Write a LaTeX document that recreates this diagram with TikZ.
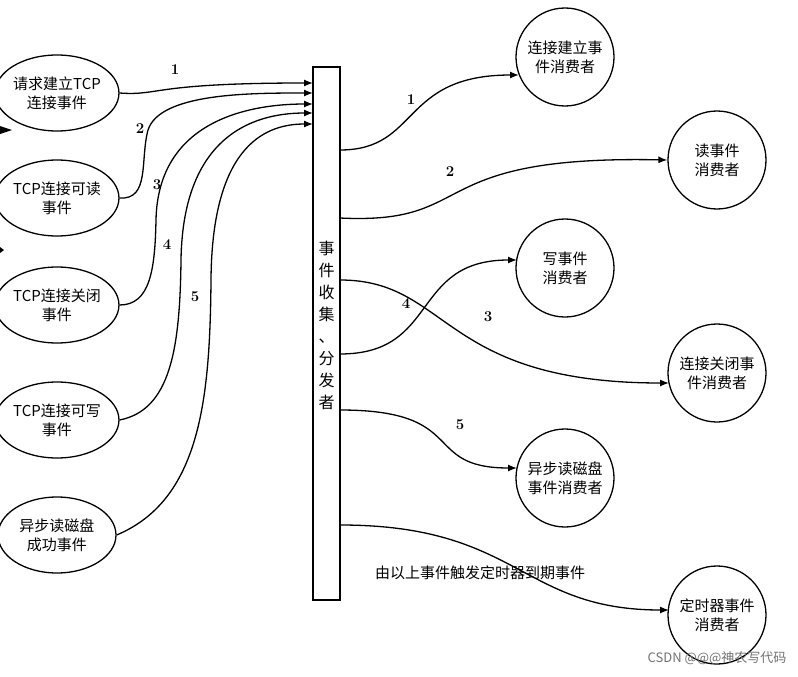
\documentclass[tikz,border=0pt]{standalone}
\usepackage{fontspec}
\newfontfamily\cjk{Noto Sans CJK SC}
\usetikzlibrary{arrows.meta,shapes.geometric}
\begin{document}
\begin{tikzpicture}[x=1pt,y=-1pt,
  ev/.style={draw,line width=1.3pt,ellipse,minimum width=118pt,minimum height=76pt,inner sep=0pt,align=center,font=\cjk\fontsize{15}{19}\selectfont},
  cons/.style={draw,line width=1.3pt,circle,minimum size=98pt,inner sep=0pt,align=center,font=\cjk\fontsize{15}{19}\selectfont},
  con/.style={line width=1.3pt,-{Latex[length=9pt,width=7pt]}},
  num/.style={font=\bfseries\fontsize{15}{18}\selectfont}]
\useasboundingbox (0,0) rectangle (798,677);
\fill[white] (0,0) rectangle (798,677);
\node[ev] (e1) at (57,93) {请求建立TCP\\连接事件};
\node[ev] (e2) at (57,198) {TCP连接可读\\事件};
\node[ev] (e3) at (57,305) {TCP连接关闭\\事件};
\node[ev] (e4) at (57,420) {TCP连接可写\\事件};
\node[ev] (e5) at (57,535) {异步读磁盘\\成功事件};
\node[draw,line width=1.3pt,minimum width=27pt,minimum height=533pt,inner sep=0pt] (bar) at (326.5,333.5) {};
\node[font=\cjk\fontsize{16}{22}\selectfont,align=center] (bt) at (326.5,325) {事\\件\\收\\集\\、\\分\\发\\者};
\node[cons] (c1) at (565,57) {连接建立事\\件消费者};
\node[cons] (c2) at (717,160) {读事件\\消费者};
\node[cons] (c3) at (565,268) {写事件\\消费者};
\node[cons] (c4) at (717,373) {连接关闭事\\件消费者};
\node[cons] (c5) at (565,478) {异步读磁盘\\事件消费者};
\node[cons] (c6) at (717,615) {定时器事件\\消费者};
\coordinate (i1) at (313,83);
\coordinate (i2) at (313,93);
\coordinate (i3) at (313,104);
\coordinate (i4) at (313,113);
\coordinate (i5) at (313,124);
\draw[con] (e1.east) .. controls (160,96) and (150,83) .. (i1);
\draw[con] (e2.east) .. controls (150,200) and (140,160) .. (148,130) .. controls (160,93) and (250,93) .. (i2);
\draw[con] (e3.east) .. controls (150,305) and (155,270) .. (156,220) .. controls (158,120) and (250,104) .. (i3);
\draw[con] (e4.east) .. controls (170,410) and (180,350) .. (181,260) .. controls (183,130) and (260,113) .. (i4);
\draw[con] (e5.east) .. controls (200,500) and (210,400) .. (211,280) .. controls (212,140) and (270,124) .. (i5);
\node[num] (n1) at (175,70) {1};
\node[num] (n2) at (140,129) {2};
\node[num] (n3) at (157,185) {3};
\node[num] (n4) at (167,245) {4};
\node[num] (n5) at (195,297) {5};
\coordinate (o1) at (340,150);
\coordinate (o2) at (340,218);
\coordinate (o3) at (340,280);
\coordinate (o4) at (340,354);
\coordinate (o5) at (340,410);
\coordinate (o6) at (340,525);
\coordinate (a1) at (519,75);
\coordinate (a3) at (517,260);
\coordinate (a4) at (669,383);
\coordinate (a5) at (517,468);
\coordinate (a6) at (669,610);
\draw[con] (o1) .. controls (420,150) and (400,75) .. (a1);
\draw[con] (o2) .. controls (480,225) and (420,155) .. (c2.west);
\draw[con] (o3) .. controls (450,280) and (440,383) .. (a4);
\draw[con] (o4) .. controls (440,354) and (410,260) .. (a3);
\draw[con] (o5) .. controls (470,410) and (420,468) .. (a5);
\draw[con] (o6) .. controls (520,525) and (520,610) .. (a6);
\node[num] (m1) at (411,100) {1};
\node[num] (m2) at (450,172) {2};
\node[num] (m3) at (488,317) {3};
\node[num] (m4) at (406,304) {4};
\node[num] (m5) at (460,425) {5};
\node[font=\cjk\fontsize{15}{18}\selectfont] (t) at (480,573) {由以上事件触发定时器到期事件};
\node[font=\cjk\fontsize{13}{16}\selectfont,text=black!55,anchor=east] (w) at (790,658) {CSDN @@@神农写代码};
\fill (0,126) -- (12,130) -- (0,134) -- cycle;
\fill (0,247) -- (4,250) -- (0,253) -- cycle;
\end{tikzpicture}
\end{document}
